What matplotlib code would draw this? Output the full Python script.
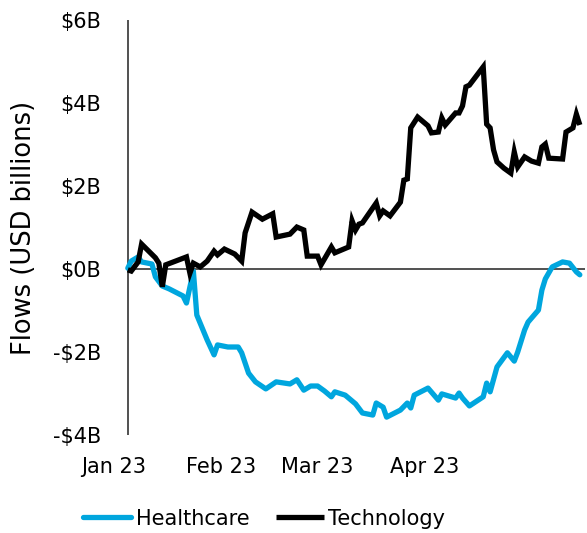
import pandas as pd
import matplotlib
matplotlib.use("Agg")
import matplotlib.pyplot as plt

# Technology flows (USD billions)
tech_dates = [
    "2023-01-05", "2023-01-06", "2023-01-08", "2023-01-09", "2023-01-13", "2023-01-14",
    "2023-01-15", "2023-01-16", "2023-01-22", "2023-01-23", "2023-01-24", "2023-01-26",
    "2023-01-28", "2023-01-30", "2023-01-31", "2023-02-02", "2023-02-05", "2023-02-07",
    "2023-02-08", "2023-02-10", "2023-02-13", "2023-02-16", "2023-02-17", "2023-02-21",
    "2023-02-23", "2023-02-25", "2023-02-26", "2023-03-01", "2023-03-02", "2023-03-05",
    "2023-03-06", "2023-03-10", "2023-03-11", "2023-03-12", "2023-03-13", "2023-03-14",
    "2023-03-18", "2023-03-19", "2023-03-20", "2023-03-22", "2023-03-25", "2023-03-26",
    "2023-03-27", "2023-03-28", "2023-03-30", "2023-04-02", "2023-04-03", "2023-04-05",
    "2023-04-06", "2023-04-07", "2023-04-10", "2023-04-11", "2023-04-12", "2023-04-13",
    "2023-04-14", "2023-04-18", "2023-04-19", "2023-04-20", "2023-04-21", "2023-04-22",
    "2023-04-24", "2023-04-26", "2023-04-27", "2023-04-28", "2023-04-30", "2023-05-02",
    "2023-05-04", "2023-05-05", "2023-05-06", "2023-05-07", "2023-05-11", "2023-05-12",
    "2023-05-14", "2023-05-15", "2023-05-16",
]
tech_values = [
    -0.02, -0.05, 0.17, 0.60, 0.27, 0.14,
    -0.43, 0.10, 0.29, -0.10, 0.14, 0.05,
    0.19, 0.43, 0.34, 0.48, 0.36, 0.19,
    0.87, 1.37, 1.20, 1.33, 0.77, 0.84,
    1.01, 0.94, 0.31, 0.31, 0.10, 0.53,
    0.39, 0.53, 1.16, 0.94, 1.08, 1.11,
    1.59, 1.28, 1.40, 1.28, 1.61, 2.14,
    2.17, 3.40, 3.66, 3.45, 3.28, 3.30,
    3.64, 3.47, 3.76, 3.76, 3.93, 4.39,
    4.43, 4.87, 3.49, 3.40, 2.87, 2.58,
    2.43, 2.31, 2.82, 2.46, 2.70, 2.60,
    2.55, 2.94, 3.01, 2.67, 2.65, 3.30,
    3.40, 3.73, 3.47,
]

# Healthcare flows (USD billions)
health_dates = [
    "2023-01-05", "2023-01-06", "2023-01-08", "2023-01-09", "2023-01-12", "2023-01-13",
    "2023-01-15", "2023-01-17", "2023-01-21", "2023-01-22", "2023-01-24", "2023-01-25",
    "2023-01-28", "2023-01-30", "2023-01-31", "2023-02-03", "2023-02-06", "2023-02-07",
    "2023-02-09", "2023-02-11", "2023-02-14", "2023-02-17", "2023-02-21", "2023-02-23",
    "2023-02-25", "2023-02-27", "2023-03-01", "2023-03-03", "2023-03-05", "2023-03-06",
    "2023-03-09", "2023-03-11", "2023-03-12", "2023-03-14", "2023-03-17", "2023-03-18",
    "2023-03-20", "2023-03-21", "2023-03-25", "2023-03-27", "2023-03-28", "2023-03-29",
    "2023-04-02", "2023-04-05", "2023-04-06", "2023-04-10", "2023-04-11", "2023-04-12",
    "2023-04-14", "2023-04-18", "2023-04-19", "2023-04-20", "2023-04-22", "2023-04-25",
    "2023-04-27", "2023-04-28", "2023-04-30", "2023-05-01", "2023-05-04", "2023-05-05",
    "2023-05-06", "2023-05-08", "2023-05-11", "2023-05-13", "2023-05-15", "2023-05-16",
]
health_values = [
    0.02, 0.19, 0.29, 0.17, 0.12, -0.19,
    -0.41, -0.48, -0.65, -0.82, -0.05, -1.11,
    -1.71, -2.07, -1.83, -1.88, -1.88, -2.02,
    -2.51, -2.72, -2.89, -2.72, -2.77, -2.67,
    -2.92, -2.82, -2.82, -2.94, -3.08, -2.96,
    -3.04, -3.18, -3.25, -3.47, -3.52, -3.23,
    -3.33, -3.57, -3.40, -3.23, -3.35, -3.04,
    -2.87, -3.16, -3.01, -3.11, -2.99, -3.11,
    -3.30, -3.08, -2.75, -2.96, -2.36, -2.02,
    -2.22, -2.00, -1.47, -1.28, -0.99, -0.51,
    -0.24, 0.05, 0.17, 0.14, -0.07, -0.14,
]

month_ticks = ["2023-01-01", "2023-02-01", "2023-03-01", "2023-04-01"]
month_labels = ["Jan 23", "Feb 23", "Mar 23", "Apr 23"]
y_ticks = [-4, -2, 0, 2, 4, 6]
y_labels = ["-$4B", "-$2B", "$0B", "$2B", "$4B", "$6B"]

tech_dates = pd.to_datetime(tech_dates)
health_dates = pd.to_datetime(health_dates)
x_start = pd.Timestamp("2023-01-01")
x_end = pd.Timestamp("2023-05-17 12:00")

plt.rcParams["font.family"] = ["DejaVu Sans"]

fig = plt.figure(figsize=(5.87, 5.33), dpi=100)
ax = fig.add_axes([0.1942, 0.1839, 0.8024, 0.7786])

ax.plot(health_dates, health_values, color="#00A6DE", lw=3.8,
        solid_joinstyle="round", solid_capstyle="round", label="Healthcare")
ax.plot(tech_dates, tech_values, color="black", lw=3.8,
        solid_joinstyle="miter", solid_capstyle="butt", label="Technology")

# y axis line sits at the first data point, zero line runs from there
ax.axvline(tech_dates[0], color="#333333", lw=1.2, zorder=1)
ax.hlines(0, tech_dates[0], x_end, color="#333333", lw=1.2, zorder=1)

for side in ["left", "right", "top", "bottom"]:
    ax.spines[side].set_visible(False)

ax.set_xlim(x_start, x_end)
ax.set_ylim(-4, 6)
ax.set_xticks(pd.to_datetime(month_ticks))
ax.set_xticklabels(month_labels)
ax.set_yticks(y_ticks)
ax.set_yticklabels(y_labels)
ax.tick_params(axis="x", length=0, pad=16, labelsize=15)
ax.tick_params(axis="y", length=0, pad=9, labelsize=15)

ax.set_ylabel("Flows (USD billions)", fontsize=18.5)
ax.yaxis.set_label_coords(-0.163, 0.5)

fig.legend(loc="center left", bbox_to_anchor=(0.128, 0.027), ncol=2,
           frameon=False, fontsize=15, handlelength=2.3, handletextpad=0.2,
           columnspacing=1.3, borderaxespad=0)

fig.savefig("out.png", dpi=100)
